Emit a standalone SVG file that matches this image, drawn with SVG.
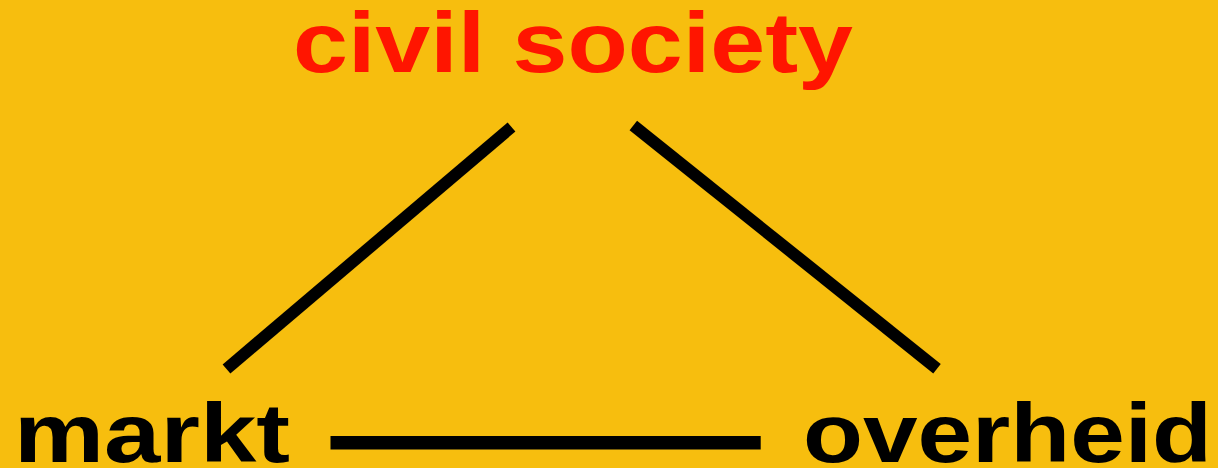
<svg xmlns="http://www.w3.org/2000/svg" width="1218" height="468" viewBox="0 0 1218 468">
<style>
.lbl{font-family:"Liberation Sans",Arial,sans-serif;font-weight:bold;font-size:83px}
.conn{stroke:#000;stroke-width:12;stroke-linecap:butt;fill:none}
</style>
<rect width="1218" height="468" fill="#F7BE0E"/>
<g id="civil-society"><text class="lbl" x="293" y="72" fill="#FF1500" style="font-size:86px" textLength="560" lengthAdjust="spacingAndGlyphs">civil society</text></g>
<g id="markt"><text class="lbl" x="14" y="462" fill="#000" textLength="276" lengthAdjust="spacingAndGlyphs">markt</text></g>
<g id="overheid"><text class="lbl" x="803" y="462" fill="#000" textLength="409" lengthAdjust="spacingAndGlyphs">overheid</text></g>
<g id="connectors">
<line class="conn" x1="511.5" y1="127" x2="226.5" y2="369"/>
<line class="conn" x1="633.3" y1="125.5" x2="937" y2="368.7"/>
<line class="conn" x1="330.5" y1="442.8" x2="760.7" y2="442.8" style="stroke-width:13.5"/>
</g>
</svg>
